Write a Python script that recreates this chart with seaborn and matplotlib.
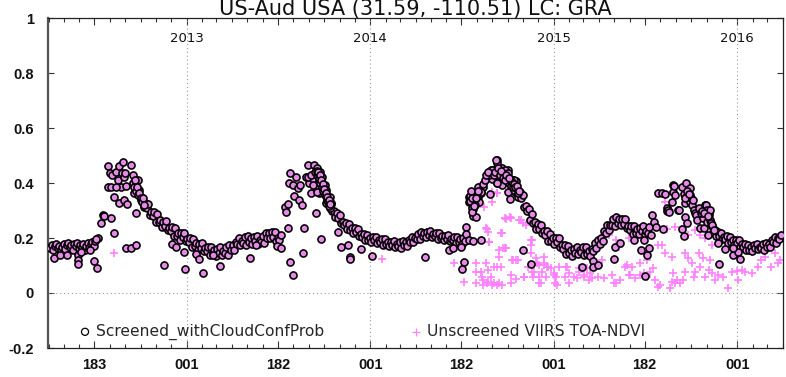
import numpy as np
import pandas as pd
import matplotlib
matplotlib.use("Agg")
import matplotlib.pyplot as plt
import seaborn as sns

# ---------------- data (day offset from 2013-01-01, NDVI) ----------------
band2012_day = [-272,-269,-266,-263,-260,-257,-254,-251,-248,-245,-242,-239,-236,-233,-230,-227,
                -224,-221,-218,-215,-212,-209,-206,-203,-200,-197,-194,-191,-188,-185,-182]
band2012_val = [0.165,0.175,0.158,0.170,0.180,0.163,0.172,0.155,0.168,0.178,0.160,0.174,0.182,0.166,0.175,0.158,
                0.178,0.170,0.183,0.162,0.176,0.168,0.180,0.158,0.172,0.182,0.165,0.178,0.186,0.172,0.190]

peak2012 = [(-177,0.200),(-170,0.256),(-167,0.284),(-165,0.280),(-151,0.271),(-145,0.219),(-157,0.462),
            (-153,0.435),(-157,0.387),(-151,0.387),(-149,0.429),(-145,0.348),(-140,0.441),(-137,0.411),
            (-135,0.326),(-134,0.463),(-130,0.387),(-129,0.435),(-127,0.477),(-125,0.423),(-124,0.338),
            (-122,0.435),(-120,0.389),(-118,0.324),(-111,0.465),(-107,0.429),(-105,0.399),(-103,0.405),
            (-101,0.292),(-97,0.411),(-104,0.362),(-97,0.368),(-140,0.387),(-120,0.162),(-111,0.162),
            (-101,0.175),(-106,0.400),(-104,0.385),(-102,0.410),(-100,0.370),(-98,0.385),(-96,0.355),
            (-94,0.365),(-92,0.345),(-90,0.330),(-88,0.345),(-86,0.320)]

band2013_day = list(range(-95, 188, 3))
band2013_val = [0.374,0.340,0.344,0.314,0.329,0.308,0.322,0.285,0.293,0.280,0.294,0.260,
                0.287,0.258,0.267,0.241,0.260,0.243,0.261,0.228,0.237,0.226,0.240,0.207,
                0.235,0.207,0.217,0.194,0.217,0.202,0.220,0.188,0.198,0.187,0.201,0.169,
                0.197,0.170,0.181,0.157,0.179,0.164,0.183,0.152,0.163,0.153,0.168,0.137,
                0.168,0.143,0.156,0.135,0.159,0.146,0.167,0.139,0.153,0.146,0.166,0.139,
                0.175,0.155,0.174,0.158,0.187,0.177,0.201,0.175,0.190,0.183,0.202,0.174,
                0.207,0.184,0.199,0.179,0.204,0.190,0.209,0.178,0.191,0.185,0.207,0.182,
                0.219,0.200,0.217,0.199,0.221,0.203,0.221,0.190,0.201,0.193,0.211]

peak2013 = [(196,0.314),(198,0.296),(201,0.324),(204,0.399),(206,0.435),(211,0.393),(214,0.353),
            (218,0.423),(221,0.381),(224,0.338),(226,0.393),(230,0.320),(237,0.421),(242,0.465),
            (244,0.401),(247,0.365),(251,0.413),(254,0.465),(257,0.387),(260,0.453),(264,0.411),
            (264,0.362),(265,0.439),(269,0.423),(270,0.375),(274,0.393),(277,0.375),(277,0.326),
            (284,0.350),(284,0.308),(241,0.423),(247,0.429),(256,0.441),(259,0.429),(267,0.399),
            (272,0.381),(276,0.356),(280,0.338),(287,0.326),(260,0.368),(251,0.393),(259,0.445),
            (261,0.425),(262,0.440),(263,0.415),(265,0.430),(266,0.400),(268,0.410),(269,0.385),
            (271,0.395),(272,0.370),(273,0.380),(275,0.355),(276,0.365),(278,0.340),(279,0.350),
            (281,0.330),(282,0.340),(283,0.315),(285,0.325)]

band2014_day = list(range(286, 554, 3))
band2014_val = [0.325,0.298,0.300,0.278,0.290,0.273,0.282,0.254,0.258,0.247,0.256,0.231,
                0.250,0.230,0.237,0.220,0.236,0.223,0.234,0.209,0.215,0.205,0.215,0.191,
                0.211,0.192,0.200,0.184,0.202,0.191,0.205,0.183,0.192,0.185,0.197,0.175,
                0.197,0.179,0.187,0.170,0.187,0.175,0.189,0.167,0.177,0.171,0.185,0.165,
                0.189,0.173,0.185,0.172,0.193,0.186,0.204,0.187,0.201,0.198,0.214,0.196,
                0.221,0.206,0.217,0.203,0.222,0.212,0.227,0.205,0.214,0.207,0.219,0.197,
                0.219,0.200,0.208,0.191,0.208,0.197,0.211,0.189,0.198,0.191,0.203,0.181,
                0.203,0.186,0.195,0.180,0.199,0.190]

peak2014 = [(556,0.239),(556,0.213),(562,0.193),(569,0.189),(585,0.193),(569,0.280),(569,0.304),
            (562,0.332),(562,0.350),(575,0.277),(579,0.350),(582,0.332),(585,0.362),(579,0.387),
            (589,0.387),(603,0.360),(602,0.432),(605,0.447),(608,0.413),(615,0.450),(617,0.484),
            (618,0.474),(622,0.441),(628,0.453),(632,0.435),(638,0.447),(618,0.401),(628,0.393),
            (638,0.405),(645,0.399),(648,0.411),(655,0.408),(643,0.341),(638,0.368),(651,0.375),
            (658,0.362),(563,0.353),(563,0.335),(568,0.308),(568,0.296),(573,0.320),(578,0.362),
            (585,0.368),(601,0.429),(608,0.447),(616,0.484),(618,0.399),(634,0.447),(638,0.435),
            (651,0.411),(640,0.400),(642,0.415),(644,0.390),(646,0.405),(648,0.385),(590,0.395),
            (593,0.410),(596,0.430),(599,0.440),(611,0.430),(613,0.440),(620,0.455),(624,0.430),
            (626,0.445),(630,0.420),(634,0.410),(636,0.430),(640,0.420),(650,0.395),(653,0.385),
            (656,0.390),(660,0.370),(565,0.370),(567,0.345),(571,0.315),(576,0.345),(580,0.370)]

band2015a_day = list(range(650, 816, 3))
band2015a_val = [0.399,0.368,0.375,0.348,0.366,0.346,0.355,0.314,0.317,0.297,0.304,0.265,
                 0.287,0.254,0.259,0.231,0.250,0.232,0.249,0.217,0.225,0.211,0.224,0.189,
                 0.216,0.189,0.200,0.178,0.201,0.184,0.200,0.166,0.173,0.160,0.174,0.141,
                 0.170,0.144,0.157,0.136,0.160,0.147,0.169,0.141,0.155,0.148,0.167,0.137,
                 0.167,0.141,0.154,0.134,0.161,0.153,0.182,0.163]

band2015b_day = list(range(818, 924, 3))
band2015b_val = [0.192,0.178,0.201,0.190,0.224,0.220,0.249,0.228,0.249,0.247,0.270,0.244,
                 0.278,0.255,0.269,0.247,0.269,0.252,0.269,0.235,0.243,0.230,0.245,0.214,
                 0.244,0.219,0.233,0.213,0.238,0.224,0.244,0.214,0.227,0.220,0.239,0.210]

peak2015 = [(925,0.284),(938,0.365),(945,0.365),(952,0.360),(948,0.232),(955,0.308),(956,0.299),
            (958,0.302),(960,0.296),(965,0.332),(968,0.368),(968,0.393),(970,0.390),(972,0.356),
            (978,0.302),(980,0.302),(985,0.387),(986,0.232),(989,0.208),(991,0.326),(992,0.277),
            (994,0.399),(994,0.344),(996,0.256),(1001,0.381),(1001,0.332),(1003,0.344),(1004,0.320),
            (1008,0.302),(1011,0.290),(1012,0.284),(1014,0.265),(1019,0.308),(1020,0.235),(1027,0.271),
            (1028,0.235),(1030,0.320),(1032,0.320),(1034,0.259),(1035,0.302),(1036,0.211),(1038,0.296),
            (1039,0.284),(1040,0.302),(1041,0.265),(1042,0.253),(1044,0.247),(1048,0.229),(990,0.360),
            (993,0.350),(997,0.365),(1002,0.355),(1006,0.340),(992,0.345),(996,0.370),(1000,0.360),
            (1022,0.290),(1024,0.300),(1028,0.290),(1036,0.280),(930,0.260),(934,0.240)]

band2016_day = list(range(1044, 1183, 3))
band2016_val = [0.245,0.223,0.228,0.208,0.223,0.209,0.220,0.196,0.203,0.195,0.206,0.183,
                0.204,0.185,0.193,0.176,0.193,0.181,0.193,0.169,0.177,0.169,0.179,0.155,
                0.176,0.158,0.168,0.153,0.173,0.164,0.180,0.159,0.169,0.163,0.177,0.157,
                0.182,0.167,0.180,0.168,0.191,0.185,0.204,0.183,0.199,0.195,0.210]

screened_outliers = [(-264,0.126),(-253,0.138),(-239,0.138),(-216,0.138),(-216,0.120),(-216,0.105),
                     (-210,0.150),(-193,0.156),(-185,0.117),(-178,0.092),(-180,0.195),(-46,0.101),
                     (-29,0.178),(-21,0.166),(-3,0.088),(-6,0.150),(18,0.142),(25,0.124),(32,0.074),
                     (52,0.138),(67,0.098),(125,0.128),(138,0.175),(180,0.171),(188,0.162),(206,0.114),
                     (211,0.065),(201,0.235),(234,0.235),(231,0.144),(267,0.195),(257,0.292),(300,0.223),
                     (306,0.166),(320,0.175),(325,0.132),(325,0.124),(347,0.159),(368,0.135),(473,0.132),
                     (521,0.156),(529,0.162),(546,0.166),(552,0.114),(548,0.086),(669,0.156),(684,0.105),
                     (787,0.096),(809,0.117),(809,0.096),(819,0.102),(851,0.166),(850,0.122),(862,0.181),
                     (889,0.193),(904,0.156),(915,0.138),(919,0.162),(909,0.193),(912,0.063),(1059,0.104),
                     (1071,0.159),(1086,0.138),(1097,0.150),(1101,0.122),(1057,0.181),(1087,0.162)]

# observations rejected by the cloud screening (unscreened only)
cloudy = [(-145,0.147),(388,0.125),(532,0.110),(575,0.078),(575,0.035),(589,0.047),(589,0.029),
          (595,0.235),(599,0.223),(602,0.187),(595,0.108),(599,0.084),(605,0.059),(608,0.029),(612,0.035),
          (618,0.096),(622,0.156),(625,0.217),(630,0.162),(635,0.162),(635,0.269),(643,0.275),(648,0.120),
          (645,0.065),(645,0.035),(658,0.120),(661,0.265),(668,0.253),(671,0.059),(678,0.096),(684,0.193),
          (684,0.144),(688,0.059),(691,0.078),(694,0.126),(701,0.102),(701,0.035),(706,0.078),(711,0.132),
          (711,0.102),(718,0.096),(724,0.090),(731,0.071),(734,0.059),(737,0.029),(592,0.314),(608,0.332),
          (617,0.365),(552,0.041),(599,0.041),(618,0.029),(628,0.029),(754,0.096),(760,0.071),(770,0.059),
          (780,0.078),(790,0.059),(797,0.090),(807,0.053),(575,0.108),(585,0.078),(588,0.059),(598,0.035),
          (611,0.096),(621,0.132),(628,0.217),(634,0.271),(644,0.271),(634,0.162),(647,0.120),(654,0.120),
          (621,0.035),(608,0.368),(618,0.362),(598,0.232),(601,0.187),(626,0.096),(654,0.050),(674,0.247),
          (664,0.265),(671,0.059),(684,0.175),(687,0.193),(687,0.078),(697,0.108),(700,0.059),(704,0.035),
          (710,0.108),(714,0.059),(717,0.096),(730,0.065),(733,0.035),(740,0.096),(753,0.059),(760,0.035),
          (756,0.096),(776,0.053),(780,0.090),(790,0.065),(800,0.047),(803,0.071),(819,0.059),(829,0.053),
          (846,0.065),(853,0.035),(862,0.047),(872,0.096),(882,0.065),(886,0.096),(892,0.053),(902,0.065),
          (909,0.071),(915,0.059),(922,0.078),(928,0.090),(932,0.047),(938,0.022),(942,0.029),(945,0.175),
          (952,0.144),(955,0.232),(962,0.018),(965,0.041),(968,0.071),(971,0.035),(975,0.047),(981,0.035),
          (988,0.047),(991,0.078),(998,0.126),(1005,0.108),(1008,0.059),(1011,0.078),(1018,0.144),
          (1021,0.096),(1027,0.126),(1031,0.059),(1038,0.084),(1041,0.120),(1045,0.071),(1051,0.047),
          (1057,0.065),(1067,0.059),(1077,0.018),(1084,0.078),(1094,0.080),(1097,0.047),(1104,0.084),
          (1110,0.078),(1124,0.071),(1137,0.096),(1143,0.120),(1150,0.132),(1157,0.168),(1163,0.096),
          (1170,0.144),(1177,0.108),(1180,0.120),(952,0.332),(962,0.302),(971,0.241),(998,0.211),
          (1011,0.229),(1031,0.199),(902,0.108),(915,0.120),(938,0.175),(965,0.132),(991,0.144),
          (1021,0.211),(1045,0.175),(1110,0.168),(1124,0.150),(839,0.211),(853,0.193),(826,0.120),
          (859,0.168),(879,0.199),(849,0.035),(876,0.102),(879,0.065)]

major_tick_days = [-184, 0, 181, 365, 546, 730, 911, 1095]
major_tick_labels = ["183", "001", "182", "001", "182", "001", "182", "001"]
year_days = [0, 365, 730, 1095]
year_labels = ["2013", "2014", "2015", "2016"]
title = "US-Aud USA (31.59, -110.51) LC: GRA"

# ---------------- assemble ----------------
for d, v in [(band2012_day, band2012_val), (band2013_day, band2013_val), (band2014_day, band2014_val),
             (band2015a_day, band2015a_val), (band2015b_day, band2015b_val), (band2016_day, band2016_val)]:
    assert len(d) == len(v), (len(d), len(v), d[0])

scr_day = (band2012_day + band2013_day + band2014_day + band2015a_day + band2015b_day + band2016_day
           + [p[0] for p in peak2012 + peak2013 + peak2014 + peak2015 + screened_outliers])
scr_val = (band2012_val + band2013_val + band2014_val + band2015a_val + band2015b_val + band2016_val
           + [p[1] for p in peak2012 + peak2013 + peak2014 + peak2015 + screened_outliers])
df_scr = pd.DataFrame({"day": scr_day, "ndvi": scr_val})
df_all = pd.DataFrame({"day": scr_day + [p[0] for p in cloudy],
                       "ndvi": scr_val + [p[1] for p in cloudy]})

# ---------------- plot ----------------
sns.set_theme(style="white")
plt.rcParams["font.family"] = ["DejaVu Sans"]

W, H = 786, 377
fig = plt.figure(figsize=(W / 100, H / 100), dpi=100)
L, R, T, B = 48, 783, 18, 348
ax = fig.add_axes([L / W, 1 - B / H, (R - L) / W, (B - T) / H])

for d in year_days:
    ax.axvline(d, color="#9a9a9a", lw=0.8, ls=(0, (1, 2.5)), zorder=1)
ax.axhline(0, color="#9a9a9a", lw=0.8, ls=(0, (1, 2.5)), zorder=1)

PINK = "#ff80ff"
sns.scatterplot(data=df_all, x="day", y="ndvi", marker="+", color=PINK, s=40,
                linewidth=1.2, ax=ax, zorder=2, label="Unscreened VIIRS TOA-NDVI")
# the unscreened "+" lies under every screened circle, which gives the circles their pink core
sns.scatterplot(data=df_scr, x="day", y="ndvi", marker="o", facecolors="#e58ae5",
                edgecolor="black", s=26, linewidth=1.15, ax=ax, zorder=3,
                label="Screened_withCloudConfProb")

ax.set_xlim(-276, 1182)
ax.set_ylim(-0.2, 1.0)
ax.set_xlabel("")
ax.set_ylabel("")

month_days = [(d - pd.Timestamp("2013-01-01")).days
              for d in pd.date_range("2012-04-01", "2016-04-01", freq="MS")]
ax.set_xticks(month_days, minor=True)
ax.set_xticks(major_tick_days)
ax.set_xticklabels(major_tick_labels, fontfamily="Liberation Sans", fontweight="bold", fontsize=10.5)
yt = [-0.2, 0, 0.2, 0.4, 0.6, 0.8, 1.0]
ax.set_yticks(yt)
ax.set_yticklabels(["-0.2", "0", "0.2", "0.4", "0.6", "0.8", "1"],
                   fontfamily="Liberation Sans", fontweight="bold", fontsize=10.5)
ax.tick_params(axis="x", which="both", direction="in", top=True, bottom=True, color="#333333", width=0.8)
ax.tick_params(axis="x", which="major", length=5, pad=7, labelcolor="#111111")
ax.tick_params(axis="x", which="minor", length=3)
ax.tick_params(axis="y", which="major", direction="in", left=True, right=True, length=4,
               pad=10, color="#333333", width=0.8, labelcolor="#111111")

for s in ax.spines.values():
    s.set_color("#222222")
    s.set_linewidth(0.9)
ax.spines["left"].set_color("#555555")
ax.spines["left"].set_linewidth(1.6)

for d, lab in zip(year_days, year_labels):
    ax.text(d, 0.925, lab, ha="center", va="center", fontsize=9.5, color="#111111")

fig.text((L + R) / 2 / W, 1 - 15.5 / H, title, ha="center", va="baseline", fontsize=15, color="#111111")

h, l = ax.get_legend_handles_labels()
order = [l.index("Screened_withCloudConfProb"), l.index("Unscreened VIIRS TOA-NDVI")]
leg = ax.legend([h[i] for i in order], [l[i] for i in order], ncol=2, loc="center left",
                bbox_to_anchor=((78.8 - L) / (R - L), (B - 332) / (B - T)), frameon=False,
                borderpad=0, borderaxespad=0, handlelength=0.8, handletextpad=0.3,
                columnspacing=5.5, fontsize=11.2, markerscale=1.0)
# legend symbol for the screened series is an open circle
leg.legend_handles[0].set_facecolor("none")
leg.legend_handles[0].set_linewidth(0.9)
leg.legend_handles[1].set_linewidth(0.9)

fig.savefig("out.png", dpi=100)
